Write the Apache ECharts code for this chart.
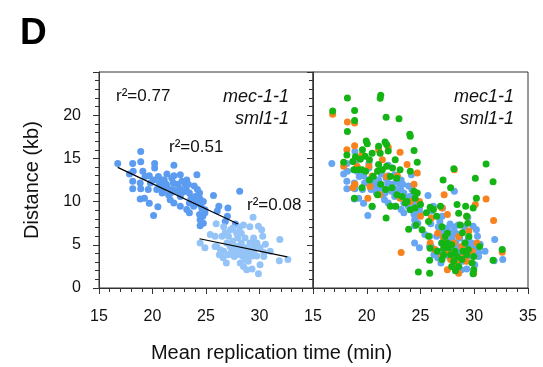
<!DOCTYPE html>
<html>
<head>
<meta charset="utf-8">
<script src="https://cdn.jsdelivr.net/npm/echarts@6/dist/echarts.min.js"></script>
<style>html,body{margin:0;padding:0;background:#fff;}#c{width:543px;height:367px;}</style>
</head>
<body>
<div id="c"></div>
<script>
// ---- data (mean replication time [min], distance [kb]) ----
const xTicks = [15, 20, 25, 30, 35];
const yTicks = [0, 5, 10, 15, 20];

// left panel, early group (dark blue)
const earlyPts = [
[16.75,14.4],[18.15,14.4],[18.9,15.8],[18.9,14.6],[17.85,13.2],[18.2,13.5],[19.1,13.5],[18.15,12.35],
[18.85,12.15],[18.15,11.5],[18.9,11.5],[18.85,10.3],[19.25,10.4],[19.7,9.8],[20.1,8.4],[20.5,9.4],
[20.2,14.4],[20.2,13.9],[19.7,13.0],[20.1,12.5],[20.55,12.9],[19.8,12.15],[20.65,12.15],[19.6,11.4],
[20.4,11.4],[20.9,11.8],[21.1,12.5],[21.3,12.0],[21.0,11.3],[20.9,11.0],[21.5,10.8],[21.65,10.2],
[21.4,11.6],[21.8,12.7],[21.95,12.15],[22.0,13.0],[22.0,14.2],[21.9,11.4],[22.35,12.0],[22.3,11.2],
[22.6,10.6],[22.55,11.5],[22.75,12.35],[23.05,12.0],[23.2,12.5],[23.35,12.0],[23.15,11.4],[22.85,11.1],
[23.45,11.0],[22.6,9.45],[22.0,9.85],[23.45,9.85],[23.6,10.4],[23.2,9.1],[23.45,8.7],[23.85,9.45],
[24.15,13.1],[24.2,11.4],[24.4,11.0],[24.0,10.6],[24.45,10.3],[24.1,10.0],[24.45,9.65],[24.75,10.0],
[24.6,9.25],[24.9,9.05],[24.4,8.5],[24.7,8.3],[24.9,8.7],[24.45,7.9],[24.75,7.5],[24.45,7.2],
[25.7,10.7],[26.2,9.45],[26.05,8.9],[27.05,9.25],[27.0,8.3],[28.15,11.2],[27.75,7.4],[26.8,7.7],
[22.6,13.1],[21.35,13.2],[20.9,12.5],[19.3,12.9],[21.7,11.0],[23.9,11.8]
];
// left panel, late group (light blue)
const latePts = [
[25.95,7.45],[26.8,6.4],[27.1,6.0],[25.85,6.0],[26.95,5.2],[26.0,4.8],[26.65,4.25],[27.1,3.85],
[26.9,2.9],[26.6,3.5],[27.5,6.95],[28.15,7.05],[28.3,6.35],[27.95,5.8],[27.5,5.4],[27.85,4.8],
[28.3,5.2],[28.65,4.65],[27.95,4.25],[28.8,4.0],[28.4,3.7],[28.2,2.9],[28.5,2.5],[28.8,2.1],
[28.95,3.1],[29.3,3.7],[29.45,4.25],[29.1,5.2],[29.45,5.8],[29.4,8.2],[29.9,7.15],[30.2,6.75],
[30.3,6.0],[29.75,5.2],[30.05,4.65],[29.75,3.7],[30.05,2.7],[29.9,1.65],[30.55,5.05],[30.4,4.1],
[31.0,4.25],[31.9,5.6],[31.85,3.15],[32.65,3.3],[24.45,5.2],[25.85,4.8],[26.35,4.4],[26.25,3.85],
[27.25,4.8],[27.4,4.25],[27.65,3.65],[27.85,3.85],[28.55,4.25],[28.95,4.45],[29.05,3.85],[29.5,4.8],
[29.6,5.2],[27.3,6.75],[26.65,7.1],[26.5,6.0],[25.4,6.2],[24.9,4.65],[28.65,5.8],[29.1,7.1],
[28.5,7.3],[27.85,6.4],[30.4,3.65],[29.3,2.2],[28.65,3.3],[28.3,4.65]
];
// regression lines (endpoints)
const fitEarly = [[16.75,13.96],[28.0,7.41]];
const fitLate = [[24.4,5.7],[32.6,3.6]];

// right panel, orange strain
const orangePts = [
[16.83,20.1],[18.2,19.2],[18.87,19.1],[18.15,16.0],[18.87,16.45],[19.55,15.45],[21.1,16.0],[22.0,16.3],
[23.1,15.7],[17.85,14.1],[19.1,14.1],[20.2,14.1],[21.45,14.85],[21.85,12.9],[22.85,13.0],[23.75,14.3],
[24.7,13.3],[24.4,12.0],[20.3,11.75],[18.7,11.6],[20.1,10.4],[21.2,10.8],[24.05,10.0],[23.1,10.4],
[24.9,10.0],[25.0,8.3],[26.0,8.1],[27.2,10.8],[27.0,9.25],[27.5,8.5],[28.15,13.7],[30.1,9.65],
[31.1,10.3],[31.8,7.8],[32.6,4.15],[23.2,4.1],[25.9,5.2],[26.6,6.35],[27.15,5.8],[27.5,4.25],
[28.1,5.2],[28.55,5.95],[28.85,4.8],[29.05,3.85],[28.4,2.9],[28.55,1.7],[29.95,1.7],[29.3,3.1],
[29.8,4.25],[30.25,5.2],[27.8,3.3],[27.0,3.7],[26.35,4.45],[27.5,2.1],[29.5,6.6],[29.3,8.3],
[18.9,12.0],[20.5,12.95]
];
// right panel, green strain
const greenPts = [
[16.83,20.5],[18.2,22.0],[21.3,22.3],[21.25,21.95],[18.87,20.55],[18.87,19.4],[21.8,19.75],[23.0,19.6],
[18.2,18.1],[24.0,17.8],[24.05,17.55],[19.95,17.0],[20.05,16.7],[21.7,16.9],[21.85,16.6],[18.15,15.4],
[19.6,16.0],[18.95,15.2],[19.4,14.9],[19.85,15.25],[20.5,15.6],[21.1,16.4],[21.25,15.6],[22.0,15.85],
[22.65,14.85],[24.4,15.9],[24.7,14.55],[17.85,14.55],[18.7,14.65],[19.55,13.7],[20.25,14.85],[21.1,14.3],
[21.85,14.1],[22.4,13.9],[23.1,13.7],[24.05,13.5],[20.25,12.5],[20.6,12.9],[22.2,12.9],[22.8,12.7],
[18.85,10.4],[20.5,9.45],[21.0,10.8],[21.8,8.1],[22.2,9.45],[23.6,9.85],[24.4,11.2],[24.7,11.0],
[24.5,10.4],[25.0,9.65],[24.5,9.25],[23.9,6.8],[24.6,7.3],[25.75,7.7],[25.9,9.35],[27.1,12.5],
[28.1,13.8],[27.8,11.6],[26.5,8.3],[26.2,9.1],[25.75,6.0],[25.9,4.6],[25.85,3.2],[24.8,1.85],
[25.85,1.7],[27.0,7.1],[27.5,6.35],[27.0,5.2],[26.55,4.25],[27.15,3.85],[27.0,3.3],[27.6,4.65],
[27.5,5.2],[27.9,5.0],[28.2,4.25],[28.4,3.65],[28.1,3.1],[28.55,2.5],[28.25,2.0],[28.7,7.3],
[28.55,8.65],[28.4,9.65],[29.2,9.45],[29.3,8.3],[29.4,7.5],[29.9,9.25],[30.2,10.4],[30.1,12.7],
[31.1,14.35],[31.75,12.3],[28.9,6.4],[29.15,5.2],[28.95,4.25],[29.3,3.85],[29.95,3.65],[29.8,2.9],
[29.95,2.1],[29.9,1.65],[28.85,3.3],[32.6,4.45],[31.75,3.2],[30.5,4.8],[27.8,3.85],[27.9,2.5],
[27.15,4.6],[27.3,5.95],[29.5,5.95],[29.45,4.45],[25.55,8.7],[23.75,10.0],[23.3,10.6],[22.8,10.8],
[22.35,11.6],[21.75,11.4],[21.3,12.0],[21.0,13.5],[21.45,13.7],[19.25,13.7],[19.9,13.5],[19.55,11.6],
[18.8,13.7],[22.7,9.45],[24.05,9.05],[25.15,6.75],[26.85,9.45]
];

// ---- chart ----
const FONT = 'Liberation Sans, Arial, Helvetica, sans-serif';
const AX = '#333';
const SYM = 7;
const chart = echarts.init(document.getElementById('c'), null, {renderer: 'canvas'});

function xAx(grid, showMax) {
  return {
    type: 'value', gridIndex: grid, min: xTicks[0], max: xTicks[xTicks.length - 1], interval: 5,
    axisLine: {show: true, onZero: false, lineStyle: {color: AX, width: 1}},
    axisTick: {show: true, inside: false, length: 6, lineStyle: {color: AX}},
    minorTick: {show: true, splitNumber: 5, length: 4, lineStyle: {color: AX}},
    splitLine: {show: false},
    axisLabel: {show: true, margin: 21, showMaxLabel: showMax, fontFamily: FONT, fontSize: 16, color: '#111'}
  };
}

const option = {
  animation: false,
  backgroundColor: '#fff',
  grid: [
    {left: 99, top: 72, width: 214, height: 216, show: true, borderColor: AX, borderWidth: 1, backgroundColor: 'transparent'},
    {left: 313, top: 72, width: 215, height: 216, show: true, borderColor: AX, borderWidth: 1, backgroundColor: 'transparent'}
  ],
  xAxis: [xAx(0, false), xAx(1, true)],
  yAxis: [
    {
      type: 'value', gridIndex: 0, min: yTicks[0], max: 25, interval: 5, position: 'left',
      name: 'Distance (kb)', nameLocation: 'middle', nameGap: 57, nameRotate: 90,
      nameTextStyle: {fontFamily: FONT, fontSize: 20, color: '#111'},
      axisLine: {show: true, onZero: false, lineStyle: {color: AX}},
      axisTick: {show: true, inside: false, length: 6, lineStyle: {color: AX}},
      minorTick: {show: true, splitNumber: 5, length: 4, lineStyle: {color: AX}},
      splitLine: {show: false},
      axisLabel: {show: true, margin: 18, showMaxLabel: false, fontFamily: FONT, fontSize: 16, color: '#111'}
    },
    {
      type: 'value', gridIndex: 0, min: 0, max: 25, interval: 5, position: 'right',
      axisLine: {show: true, onZero: false, lineStyle: {color: AX}},
      axisTick: {show: true, inside: true, length: 6, lineStyle: {color: AX}},
      minorTick: {show: true, splitNumber: 5, length: 4, lineStyle: {color: AX}},
      splitLine: {show: false},
      axisLabel: {show: false}
    },
    {
      type: 'value', gridIndex: 1, min: 0, max: 25, interval: 5,
      axisLine: {show: false}, axisTick: {show: false}, splitLine: {show: false}, axisLabel: {show: false}
    }
  ],
  series: [
    {type: 'scatter', xAxisIndex: 0, yAxisIndex: 0, data: earlyPts, symbolSize: SYM, itemStyle: {color: '#5c9cf0', opacity: 1}},
    {type: 'scatter', xAxisIndex: 0, yAxisIndex: 0, data: latePts, symbolSize: SYM, itemStyle: {color: '#94c4f7', opacity: 1}},
    {type: 'line', xAxisIndex: 0, yAxisIndex: 0, data: fitEarly, symbol: 'none', lineStyle: {color: '#000', width: 1.2}},
    {type: 'line', xAxisIndex: 0, yAxisIndex: 0, data: fitLate, symbol: 'none', lineStyle: {color: '#000', width: 1.2}},
    {type: 'scatter', xAxisIndex: 1, yAxisIndex: 2, data: earlyPts.concat(latePts), symbolSize: SYM, itemStyle: {color: '#66a6f2', opacity: 1}},
    {type: 'scatter', xAxisIndex: 1, yAxisIndex: 2, data: orangePts, symbolSize: SYM, itemStyle: {color: '#f7821e', opacity: 1}},
    {type: 'scatter', xAxisIndex: 1, yAxisIndex: 2, data: greenPts, symbolSize: SYM, itemStyle: {color: '#14b414', opacity: 1}}
  ],
  graphic: [
    {type: 'text', left: 20, top: 15, style: {text: 'D', font: 'bold 37px ' + FONT, fill: '#000'}},
    {type: 'text', left: 116, top: 88, style: {text: 'r²=0.77', font: '17px ' + FONT, fill: '#111'}},
    {type: 'text', left: 169, top: 139, style: {text: 'r²=0.51', font: '17px ' + FONT, fill: '#111'}},
    {type: 'text', left: 247, top: 197, style: {text: 'r²=0.08', font: '17px ' + FONT, fill: '#111'}},
    {type: 'text', right: 543 - 289, top: 88, style: {text: 'mec-1-1', font: 'italic 18px ' + FONT, fill: '#111', textAlign: 'right'}},
    {type: 'text', right: 543 - 289, top: 110, style: {text: 'sml1-1', font: 'italic 18px ' + FONT, fill: '#111', textAlign: 'right'}},
    {type: 'text', right: 543 - 514, top: 88, style: {text: 'mec1-1', font: 'italic 18px ' + FONT, fill: '#111', textAlign: 'right'}},
    {type: 'text', right: 543 - 514, top: 110, style: {text: 'sml1-1', font: 'italic 18px ' + FONT, fill: '#111', textAlign: 'right'}},
    {type: 'text', left: 'center', top: 343, style: {text: 'Mean replication time (min)', font: '20px ' + FONT, fill: '#111'}}
  ]
};
chart.setOption(option);
</script>
</body>
</html>
